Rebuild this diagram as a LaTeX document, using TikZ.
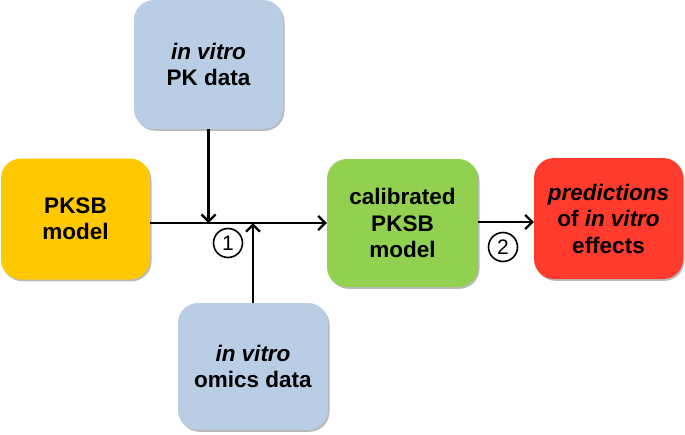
\documentclass[tikz,border=0pt]{standalone}
\usepackage{fontspec}
\setmainfont{Liberation Sans}
\usetikzlibrary{arrows.meta,shadows}
\definecolor{boxblue}{HTML}{B9CDE5}
\definecolor{boxyellow}{HTML}{FFC800}
\definecolor{boxgreen}{HTML}{92D050}
\definecolor{boxred}{HTML}{FF3B2E}
\tikzset{
  box/.style={rounded corners=20pt, inner sep=0pt, align=center,
    font=\fontsize{22.5}{26.5}\selectfont\bfseries,
    drop shadow={shadow xshift=1.5pt, shadow yshift=-1.8pt, fill=black!45, opacity=0.6}},
  conn/.style={line width=2.5pt, -{Straight Barb[length=7pt,width=14pt,line width=2.3pt]}},
  num/.style={circle, draw, line width=1.6pt, minimum size=29pt, inner sep=0pt,
    font=\fontsize{21}{23}\selectfont}
}
\begin{document}
\begin{tikzpicture}[x=1pt,y=-1pt]
\useasboundingbox (0,0) rectangle (685,434);
\node[box, fill=boxblue, minimum width=149pt, minimum height=129pt] (top) at (208.5,64.5)
  {\textit{in vitro}\\PK data};
\node[box, fill=boxyellow, minimum width=149pt, minimum height=121pt] (pksb) at (75.5,219)
  {PKSB\\model};
\node[box, fill=boxblue, minimum width=150pt, minimum height=127pt] (bot) at (253,366.5)
  {\textit{in vitro}\\omics data};
\node[box, fill=boxgreen, minimum width=151pt, minimum height=128pt] (cal) at (402.5,223)
  {calibrated\\PKSB\\model};
\node[box, fill=boxred, minimum width=149pt, minimum height=121pt] (pred) at (608.5,218.5)
  {\textit{predictions}\\of \textit{in vitro}\\effects};
\draw[conn] (pksb.east |- cal.west) -- (cal.west);
\draw[conn] (top.south) -- (top.south |- cal.west);
\draw[conn] (bot.north) -- (bot.north |- cal.west);
\draw[conn] (cal.east |- 0,222) -- (pred.west |- 0,222);
\node[num] (n1) at (228,243) {1};
\node[num] (n2) at (503,247) {2};
\end{tikzpicture}
\end{document}
